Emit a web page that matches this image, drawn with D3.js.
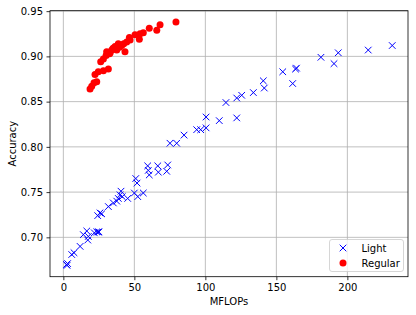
<!DOCTYPE html>
<html lang="en">
<head>
  <meta charset="UTF-8">
  <title>Accuracy vs MFLOPs</title>
  <script src="https://d3js.org/d3.v7.min.js"></script>
  <style>
    body { margin: 0; background: #fff; }
    text { font-family: "DejaVu Sans", sans-serif; }
  </style>
</head>
<body>
  <script>
    // data
    const lightMflops = [2.2, 2.6, 3.0, 5.9, 7.5, 11.8, 14.1, 16.5, 17.2, 17.6, 21.8, 23.5, 24.5, 25.1,
      24.2, 25.8, 27.0, 31.7, 35.2, 37.6, 38.7, 39.9, 40.6, 41.5, 45.3, 50.0, 52.4, 56.3, 51.0, 51.9,
      59.4, 59.8, 60.5, 66.5, 66.9, 73.5, 72.8, 75.1, 79.8, 85.0, 93.9, 96.7, 100.5, 100.5, 109.8,
      114.5, 122.1, 122.1, 125.6, 133.8, 140.8, 141.5, 154.5, 161.5, 163.5, 164.2, 181.4, 190.6,
      193.6, 214.7, 231.6];
    const lightAcc = [0.670, 0.669, 0.671, 0.681, 0.683, 0.690, 0.703, 0.707, 0.697, 0.701, 0.705, 0.706, 0.706, 0.706,
      0.724, 0.727, 0.726, 0.734, 0.738, 0.740, 0.743, 0.747, 0.751, 0.745, 0.743, 0.749, 0.745, 0.749, 0.765, 0.760,
      0.779, 0.774, 0.769, 0.779, 0.772, 0.780, 0.773, 0.804, 0.804, 0.813, 0.819, 0.819, 0.821, 0.833, 0.829,
      0.849, 0.832, 0.854, 0.857, 0.860, 0.873, 0.865, 0.883, 0.870, 0.886, 0.887, 0.899, 0.892,
      0.904, 0.907, 0.912];
    const regularMflops = [18.8, 20.0, 21.6, 23.5, 22.3, 24.6, 28.2, 31.7, 26.3, 28.2, 30.1, 30.5, 32.5,
      34.1, 36.4, 38.7, 37.6, 43.4, 41.1, 44.6, 47.0, 46.5, 50.5, 54.0, 53.5, 56.3, 60.5, 65.8, 68.1, 79.3,
      33.0, 35.0, 39.5, 42.5];
    const regularAcc = [0.864, 0.867, 0.871, 0.872, 0.880, 0.883, 0.884, 0.886, 0.894, 0.897, 0.901, 0.905, 0.903,
      0.907, 0.911, 0.914, 0.907, 0.905, 0.912, 0.916, 0.918, 0.921, 0.924, 0.925, 0.919, 0.926, 0.931, 0.929, 0.935, 0.938,
      0.904, 0.909, 0.910, 0.914];
    const xTicks = [0, 50, 100, 150, 200];
    const yTicks = [0.70, 0.75, 0.80, 0.85, 0.90, 0.95];

    const width = 416, height = 315;
    const plotL = 50, plotR = 408, plotT = 10.7, plotB = 276.7;

    const svg = d3.select("body").append("svg")
      .attr("width", width)
      .attr("height", height);

    const x = d3.scaleLinear().domain([-9.4, 242.7]).range([plotL, plotR]);
    const y = d3.scaleLinear().domain([0.6565, 0.9505]).range([plotB, plotT]);

    // grid
    svg.append("g").selectAll("line").data(xTicks).join("line")
      .attr("x1", d => x(d)).attr("x2", d => x(d))
      .attr("y1", plotT).attr("y2", plotB)
      .attr("stroke", "#b0b0b0").attr("stroke-width", 0.8);
    svg.append("g").selectAll("line").data(yTicks).join("line")
      .attr("y1", d => y(d)).attr("y2", d => y(d))
      .attr("x1", plotL).attr("x2", plotR)
      .attr("stroke", "#b0b0b0").attr("stroke-width", 0.8);

    // light: blue x markers
    const s = 3.3;
    svg.append("g").attr("stroke", "#0000ff").attr("stroke-width", 1)
      .selectAll("path").data(lightMflops.map((m, i) => [m, lightAcc[i]])).join("path")
      .attr("d", d => {
        const cx = x(d[0]), cy = y(d[1]);
        return `M${cx - s},${cy - s}L${cx + s},${cy + s}M${cx - s},${cy + s}L${cx + s},${cy - s}`;
      });

    // regular: red dots
    svg.append("g").selectAll("circle")
      .data(regularMflops.map((m, i) => [m, regularAcc[i]])).join("circle")
      .attr("cx", d => x(d[0])).attr("cy", d => y(d[1]))
      .attr("r", 3.5).attr("fill", "#ff0000");

    // axes
    const xAxis = svg.append("g")
      .attr("transform", `translate(0,${plotB})`)
      .call(d3.axisBottom(x).tickValues(xTicks).tickSize(3.5).tickPadding(3.5));
    const yAxis = svg.append("g")
      .attr("transform", `translate(${plotL},0)`)
      .call(d3.axisLeft(y).tickValues(yTicks).tickFormat(d3.format(".2f")).tickSize(3.5).tickPadding(3.5));
    [xAxis, yAxis].forEach(a => {
      a.select(".domain").remove();
      a.selectAll("line").attr("stroke", "#000").attr("stroke-width", 0.8);
      a.selectAll("text").attr("font-size", 10).attr("fill", "#000")
        .attr("font-family", "DejaVu Sans, sans-serif");
    });

    svg.append("rect")
      .attr("x", plotL).attr("y", plotT)
      .attr("width", plotR - plotL).attr("height", plotB - plotT)
      .attr("fill", "none").attr("stroke", "#000").attr("stroke-width", 0.8);

    svg.append("text")
      .attr("x", (plotL + plotR) / 2).attr("y", 305)
      .attr("text-anchor", "middle").attr("font-size", 10)
      .text("MFLOPs");
    svg.append("text")
      .attr("transform", `translate(16,${(plotT + plotB) / 2}) rotate(-90)`)
      .attr("text-anchor", "middle").attr("font-size", 10)
      .text("Accuracy");

    // legend
    const lg = svg.append("g");
    lg.append("rect")
      .attr("x", 329.5).attr("y", 239.5).attr("width", 74).attr("height", 32)
      .attr("rx", 2.5).attr("fill", "#fff").attr("fill-opacity", 0.8)
      .attr("stroke", "#cccccc").attr("stroke-width", 0.8);
    const lx = 343, ly1 = 248, ly2 = 263;
    lg.append("path")
      .attr("d", `M${lx - s},${ly1 - s}L${lx + s},${ly1 + s}M${lx - s},${ly1 + s}L${lx + s},${ly1 - s}`)
      .attr("stroke", "#0000ff").attr("stroke-width", 1);
    lg.append("circle").attr("cx", lx).attr("cy", ly2).attr("r", 3.5).attr("fill", "#ff0000");
    lg.append("text").attr("x", 361.5).attr("y", ly1 + 3.6).attr("font-size", 10).text("Light");
    lg.append("text").attr("x", 361.5).attr("y", ly2 + 3.6).attr("font-size", 10).text("Regular");
  </script>
</body>
</html>
